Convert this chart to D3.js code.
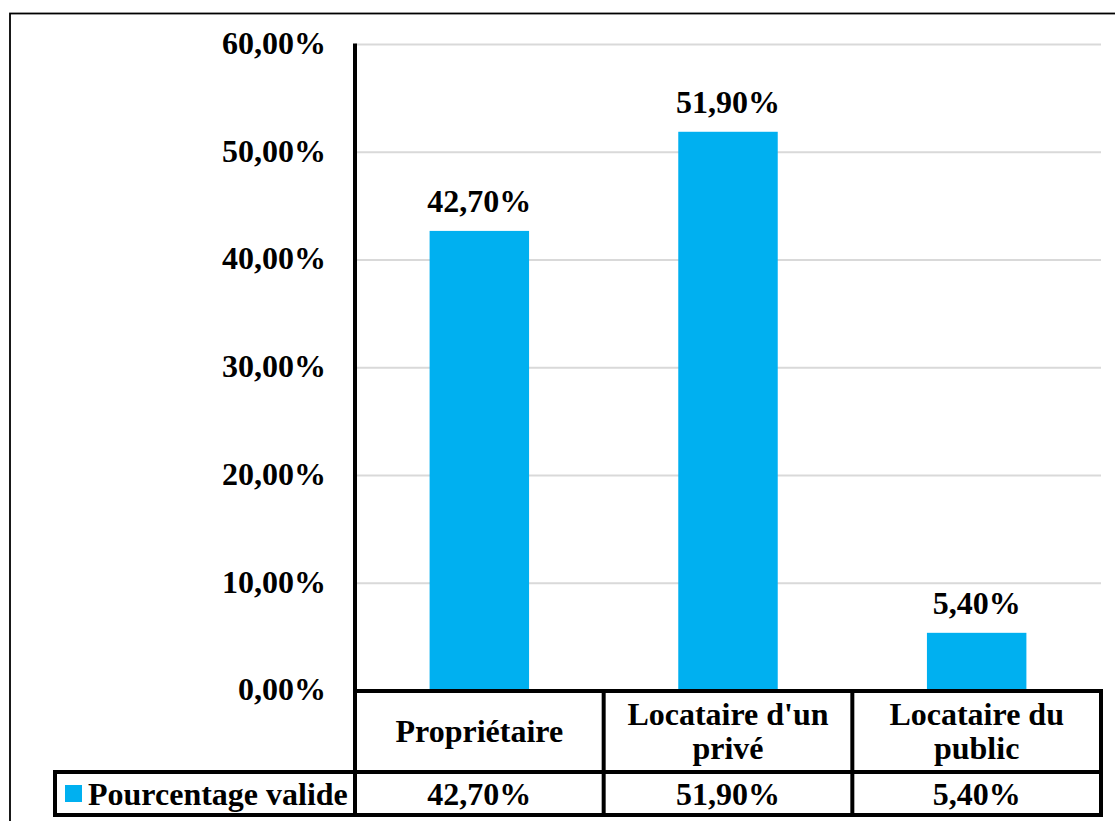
<!DOCTYPE html>
<html>
<head>
<meta charset="utf-8">
<script src="https://cdn.jsdelivr.net/npm/d3@7"></script>
<style>
  html, body { margin: 0; padding: 0; background: #fff; }
  svg { display: block; }
  text { font-family: "Liberation Serif", "Times New Roman", serif; font-weight: bold; fill: #000; }
</style>
</head>
<body>
<svg id="chart" width="1115" height="821"></svg>
<script>
// Statut d'occupation du logement
const categories = ["Propriétaire", "Locataire d'un privé", "Locataire du public"];
const seriesName = "Pourcentage valide";
const values = [42.7, 51.9, 5.4];
const yTicks = [0, 10, 20, 30, 40, 50, 60];

const fr = d3.formatLocale({ decimal: ",", thousands: " ", grouping: [3], currency: ["", " €"] });
const pct = v => fr.format(".2f")(v) + "%";

const W = 1115, H = 821;
const plot = { left: 355, right: 1101, top: 44.5, bottom: 691 };
const row1Bottom = 772, row2Bottom = 815, legendLeft = 55;
const fontSize = 32;
const barColor = "#00B0F0";

const svg = d3.select("#chart");

// outer frame
svg.append("rect")
  .attr("x", 10).attr("y", 13.5)
  .attr("width", W + 20).attr("height", H + 20)
  .attr("fill", "none").attr("stroke", "#000").attr("stroke-width", 1.8);

const x = d3.scaleBand().domain(categories).range([plot.left, plot.right]).paddingInner(0).paddingOuter(0);
const y = d3.scaleLinear().domain([0, 60]).range([plot.bottom, plot.top]);

// horizontal gridlines
svg.append("g")
  .selectAll("line")
  .data(yTicks.filter(t => t > 0))
  .join("line")
  .attr("x1", plot.left).attr("x2", plot.right)
  .attr("y1", d => y(d)).attr("y2", d => y(d))
  .attr("stroke", "#d9d9d9").attr("stroke-width", 2);

// y axis labels
const yAxis = d3.axisLeft(y).tickValues(yTicks).tickFormat(pct).tickSize(0).tickPadding(29);
const gy = svg.append("g").attr("transform", `translate(${plot.left},0)`).call(yAxis);
gy.select(".domain").remove();
gy.selectAll("text")
  .attr("font-size", fontSize)
  .attr("font-family", "Liberation Serif, Times New Roman, serif")
  .attr("font-weight", "bold")
  .attr("dy", "0.28em");

// bars
const barW = x.bandwidth() * 0.4;
svg.append("g")
  .selectAll("rect")
  .data(values)
  .join("rect")
  .attr("x", (d, i) => x(categories[i]) + (x.bandwidth() - barW) / 2)
  .attr("y", d => y(d))
  .attr("width", barW)
  .attr("height", d => y(0) - y(d))
  .attr("fill", barColor);

// value labels above bars
svg.append("g")
  .selectAll("text")
  .data(values)
  .join("text")
  .attr("x", (d, i) => x(categories[i]) + x.bandwidth() / 2)
  .attr("y", d => y(d) - 19)
  .attr("text-anchor", "middle")
  .attr("font-size", fontSize)
  .text(d => pct(d));

// y axis line
svg.append("line")
  .attr("x1", plot.left).attr("x2", plot.left)
  .attr("y1", plot.top - 1).attr("y2", plot.bottom)
  .attr("stroke", "#000").attr("stroke-width", 4);

// data table under the plot
const table = svg.append("g");
function hline(x1, x2, yy) {
  table.append("line").attr("x1", x1).attr("x2", x2).attr("y1", yy).attr("y2", yy)
    .attr("stroke", "#000").attr("stroke-width", 4).attr("stroke-linecap", "square");
}
function vline(xx, y1, y2) {
  table.append("line").attr("x1", xx).attr("x2", xx).attr("y1", y1).attr("y2", y2)
    .attr("stroke", "#000").attr("stroke-width", 4).attr("stroke-linecap", "square");
}
hline(plot.left, plot.right, plot.bottom);
hline(legendLeft, plot.right, row1Bottom);
hline(legendLeft, plot.right, row2Bottom);
vline(legendLeft, row1Bottom, row2Bottom);
categories.forEach(c => vline(x(c), plot.bottom, row2Bottom));
vline(plot.right, plot.bottom, row2Bottom);

// category header cells (wrapped to the cell width)
categories.forEach(c => {
  const cx = x(c) + x.bandwidth() / 2;
  const words = c.split(" ");
  const probe = table.append("text").attr("font-size", fontSize).attr("visibility", "hidden");
  const lines = [];
  let cur = [];
  words.forEach(w => {
    const trial = cur.concat(w).join(" ");
    probe.text(trial);
    if (probe.node().getComputedTextLength() > x.bandwidth() - 14 && cur.length) {
      lines.push(cur.join(" "));
      cur = [w];
    } else cur.push(w);
  });
  lines.push(cur.join(" "));
  probe.remove();
  const mid = (plot.bottom + row1Bottom) / 2;
  const lh = 34;
  const first = mid + 10 - (lines.length - 1) * lh / 2;
  lines.forEach((ln, k) => {
    table.append("text")
      .attr("x", cx).attr("y", first + k * lh)
      .attr("text-anchor", "middle").attr("font-size", fontSize)
      .text(ln);
  });
});

// value row
values.forEach((v, i) => {
  table.append("text")
    .attr("x", x(categories[i]) + x.bandwidth() / 2)
    .attr("y", row2Bottom - 10)
    .attr("text-anchor", "middle").attr("font-size", fontSize)
    .text(pct(v));
});

// legend key + series name
table.append("rect")
  .attr("x", 65).attr("y", 785).attr("width", 17).attr("height", 17)
  .attr("fill", barColor);
table.append("text")
  .attr("x", 88).attr("y", row2Bottom - 10)
  .attr("font-size", fontSize)
  .text(seriesName);
</script>
</body>
</html>
